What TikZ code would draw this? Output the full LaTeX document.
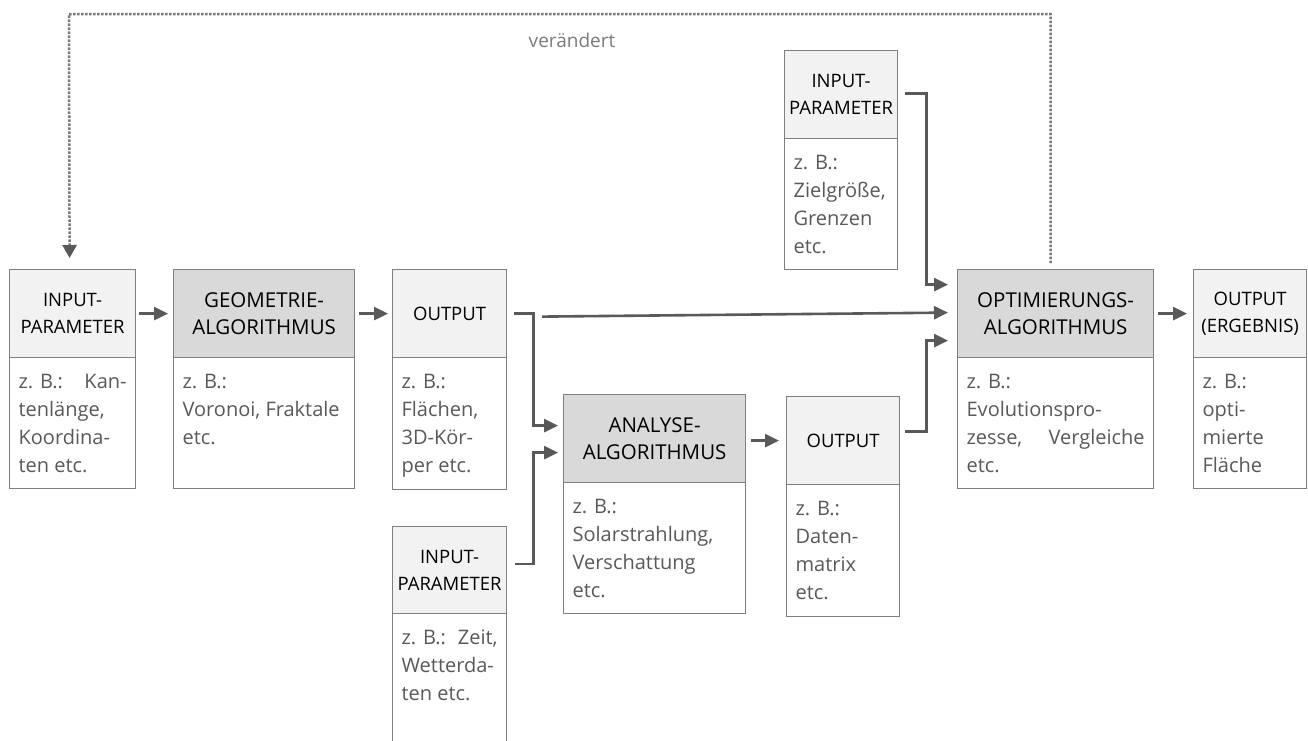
\documentclass[tikz,border=0pt]{standalone}
\usepackage{fontspec}
\setmainfont{Open Sans}
\usetikzlibrary{arrows.meta}
\definecolor{bordergray}{HTML}{7F7F7F}
\definecolor{lightfill}{HTML}{F2F2F2}
\definecolor{darkfill}{HTML}{D9D9D9}
\definecolor{bodygray}{HTML}{595959}
\definecolor{conngray}{HTML}{595959}
\definecolor{dotgray}{HTML}{7A7A7A}
\newcommand{\smallhead}{\fontsize{18.5}{27}\selectfont}
\newcommand{\bighead}{\fontsize{20.5}{27}\selectfont}
\newcommand{\bodyfont}{\fontsize{20}{28}\selectfont}
\newcommand{\bt}[3]{\parbox[t][#2][t]{#1}{\rule{0pt}{31pt}#3}}
\begin{document}
\begin{tikzpicture}[x=1pt,y=-1pt,
  box/.style={draw=bordergray, line width=1.2pt, inner sep=0pt, anchor=north west},
  hlight/.style={box, fill=lightfill, font=\smallhead, align=center, text=black},
  hdark/.style={box, fill=darkfill, font=\bighead, align=center, text=black},
  bodybox/.style={box, fill=white, text=bodygray, font=\bodyfont, inner xsep=9pt, inner ysep=0pt},
  conn/.style={draw=conngray, line width=2.6pt, -{Triangle[length=14pt,width=13pt]}},
  loop/.style={draw=dotgray, line width=2.5pt, dash pattern=on 2.4pt off 1.6pt, -{Triangle[length=13pt,width=14pt,color=conngray]}},
  lbl/.style={font=\fontsize{19}{22}\selectfont, text=dotgray, inner sep=0pt}
]
\useasboundingbox (0,0) rectangle (1308,740);
\clip (0,0) rectangle (1308,740);

% left input
\node[bodybox, minimum width=126pt] (in1b) at (9,357) {\bt{108pt}{131pt}{z. B.:\hfill Kan-\\tenlänge,\\Koordina-\\ten etc.}};
\node[hlight, minimum width=126pt, minimum height=88pt] (in1h) at (9,269) {INPUT-\\PARAMETER};

% geometry
\node[bodybox, minimum width=181pt] (geob) at (173,357) {\bt{163pt}{131pt}{z. B.:\\Voronoi, Fraktale\\etc.}};
\node[hdark, minimum width=181pt, minimum height=88pt] (geoh) at (173,269) {GEOMETRIE-\\ALGORITHMUS};

% output 1
\node[bodybox, minimum width=114pt] (out1b) at (392,357) {\bt{96pt}{132pt}{z. B.:\\Flächen,\\3D-Kör-\\per etc.}};
\node[hlight, minimum width=114pt, minimum height=88pt] (out1h) at (392,269) {OUTPUT};

% analysis
\node[bodybox, minimum width=182pt] (anab) at (563,482) {\bt{164pt}{131pt}{z. B.:\\Solarstrahlung,\\Verschattung\\etc.}};
\node[hdark, minimum width=182pt, minimum height=88pt] (anah) at (563,394) {ANALYSE-\\ALGORITHMUS};

% bottom input
\node[bodybox, minimum width=114pt] (in2b) at (392,613) {\bt{96pt}{160pt}{z. B.:\hfill Zeit,\\Wetterda-\\ten etc.}};
\node[hlight, minimum width=114pt, minimum height=87pt] (in2h) at (392,526) {INPUT-\\PARAMETER};

% output 2
\node[bodybox, minimum width=113pt] (out2b) at (786,484) {\bt{95pt}{132pt}{z. B.:\\Daten-\\matrix\\etc.}};
\node[hlight, minimum width=113pt, minimum height=88pt] (out2h) at (786,396) {OUTPUT};

% top input
\node[bodybox, minimum width=113pt] (in3b) at (784,138) {\bt{95pt}{131pt}{z. B.:\\Zielgröße,\\Grenzen\\etc.}};
\node[hlight, minimum width=113pt, minimum height=88pt] (in3h) at (784,50) {INPUT-\\PARAMETER};

% optimisation
\node[bodybox, minimum width=196pt] (optb) at (957,357) {\bt{178pt}{131pt}{z. B.:\\Evolutionspro-\\zesse,\hfill Vergleiche\\etc.}};
\node[hdark, minimum width=196pt, minimum height=88pt] (opth) at (957,269) {OPTIMIERUNGS-\\ALGORITHMUS};

% result
\node[bodybox, minimum width=113pt] (ergb) at (1193,357) {\bt{95pt}{131pt}{z. B.:\\opti-\\mierte\\Fläche}};
\node[hlight, minimum width=113pt, minimum height=88pt] (ergh) at (1193,269) {OUTPUT\\(ERGEBNIS)};

% label
\node[lbl] (verlbl) at (572,40) {verändert};

% connectors
\draw[conn] ([xshift=3pt]in1h.east) -- ([xshift=-5pt]geoh.west);
\draw[conn] ([xshift=4pt]geoh.east) -- ([xshift=-4pt]out1h.west);
\draw[conn] ([xshift=7pt]out1h.east) -- ++(19pt,0) |- ([xshift=-5pt,yshift=13pt]anah.west);
\draw[conn] ([xshift=8pt,yshift=6pt]in2h.east) -- ++(18pt,0) |- ([xshift=-5pt,yshift=-14pt]anah.west);
\draw[conn] ([xshift=35pt,yshift=-3pt]out1h.east) -- ([xshift=-9pt,yshift=1pt]opth.west);
\draw[conn] ([xshift=5pt]anah.east |- out2h.west) -- ([xshift=-7pt]out2h.west);
\draw[conn] ([xshift=5pt,yshift=9pt]out2h.east) -- ++(21pt,0) |- ([xshift=-9pt,yshift=-27pt]opth.west);
\draw[conn] ([xshift=7pt,yshift=1pt]in3h.east) -- ++(21pt,0) |- ([xshift=-9pt,yshift=29pt]opth.west);
\draw[conn] ([xshift=4pt]opth.east) -- ([xshift=-6pt]ergh.west);

% feedback loop
\coordinate (looptop) at (69,14);
\draw[loop] ([xshift=-5pt,yshift=6pt]opth.north) |- (looptop) -- ([xshift=-3pt,yshift=11pt]in1h.north);
\end{tikzpicture}
\end{document}
